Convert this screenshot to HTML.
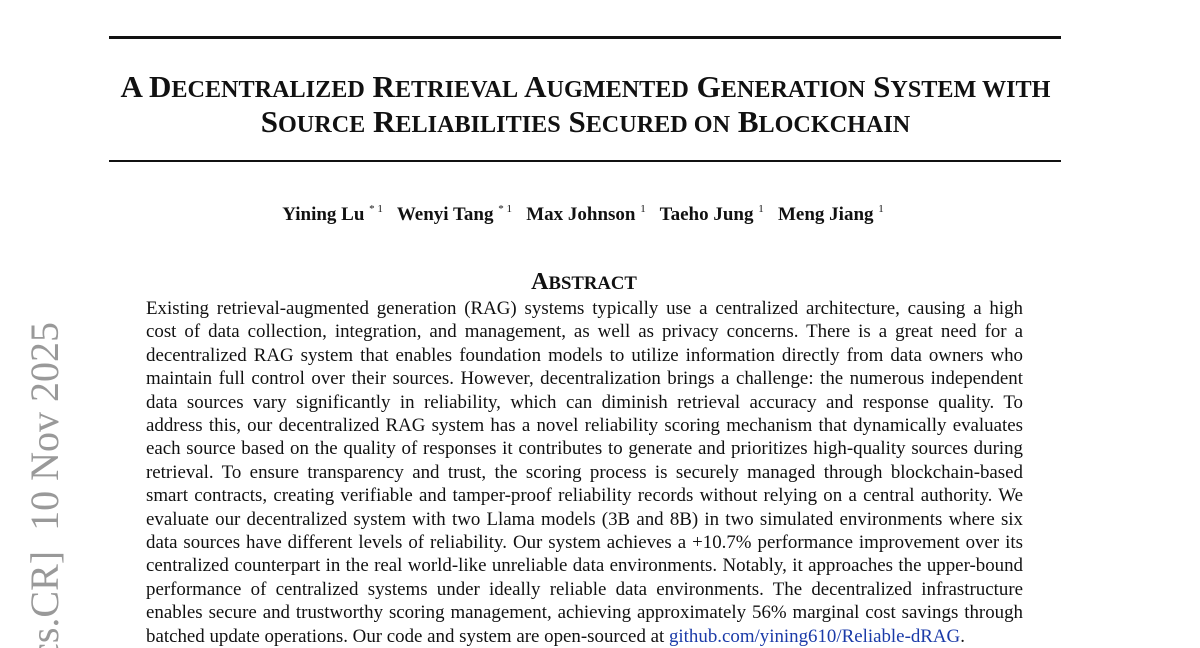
<!DOCTYPE html>
<html><head><meta charset="utf-8"><style>
html,body{margin:0;width:1200px;height:648px;overflow:hidden;background:#fff}
#p{position:relative;width:1200px;height:648px;overflow:hidden;font-family:"Liberation Serif",serif;color:#111}
.rule{position:absolute;left:109px;width:952px;background:#111}
.t{position:absolute;left:0;width:1171px;text-align:center;font-weight:bold;font-size:31px;white-space:nowrap;line-height:34px}
.t s,.abs s{text-decoration:none;font-size:78%}
.auth{position:absolute;top:203px;left:0;width:1166px;text-align:center;font-weight:bold;font-size:19px;white-space:nowrap}
.auth sup{font-weight:normal;font-size:11px;vertical-align:8px}
.abs{position:absolute;top:269px;left:0;width:1168px;text-align:center;font-weight:bold;font-size:24px}
.body{position:absolute;left:146px;top:297px;width:877px;font-size:18.9px;line-height:23.4px}
.body div{text-align:justify;text-align-last:justify;white-space:nowrap}
.body div.last{text-align-last:left}
a{color:#1a3aa8;text-decoration:none}
.side{position:absolute;left:22px;top:322px;width:326px;height:46px;overflow:hidden;display:flex;justify-content:flex-end;transform-origin:0 0;transform:translate(0,326px) rotate(-90deg);color:#999;font-size:40px;line-height:46px;white-space:nowrap}
.side span{flex:none}
</style></head><body><div id="p">
<div class="rule" style="top:36px;height:3px"></div>
<div class="rule" style="top:160px;height:1.5px"></div>
<div class="t" style="top:70px">A D<s>ECENTRALIZED</s> R<s>ETRIEVAL</s> A<s>UGMENTED</s> G<s>ENERATION</s> S<s>YSTEM WITH</s></div>
<div class="t" style="top:105px">S<s>OURCE</s> R<s>ELIABILITIES</s> S<s>ECURED ON</s> B<s>LOCKCHAIN</s></div>
<div class="auth">Yining Lu <sup>* 1</sup>&nbsp;&nbsp; Wenyi Tang <sup>* 1</sup>&nbsp;&nbsp; Max Johnson <sup>1</sup>&nbsp;&nbsp; Taeho Jung <sup>1</sup>&nbsp;&nbsp; Meng Jiang <sup>1</sup></div>
<div class="abs">A<s>BSTRACT</s></div>
<div class="side"><span>arXiv:2511.xxxxx [cs.CR]&nbsp; 10 Nov 2025</span></div>
<div class="body">
<div>Existing retrieval-augmented generation (RAG) systems typically use a centralized architecture, causing a high</div>
<div>cost of data collection, integration, and management, as well as privacy concerns. There is a great need for a</div>
<div>decentralized RAG system that enables foundation models to utilize information directly from data owners who</div>
<div>maintain full control over their sources. However, decentralization brings a challenge: the numerous independent</div>
<div>data sources vary significantly in reliability, which can diminish retrieval accuracy and response quality. To</div>
<div>address this, our decentralized RAG system has a novel reliability scoring mechanism that dynamically evaluates</div>
<div>each source based on the quality of responses it contributes to generate and prioritizes high-quality sources during</div>
<div>retrieval. To ensure transparency and trust, the scoring process is securely managed through blockchain-based</div>
<div>smart contracts, creating verifiable and tamper-proof reliability records without relying on a central authority. We</div>
<div>evaluate our decentralized system with two Llama models (3B and 8B) in two simulated environments where six</div>
<div>data sources have different levels of reliability. Our system achieves a +10.7% performance improvement over its</div>
<div>centralized counterpart in the real world-like unreliable data environments. Notably, it approaches the upper-bound</div>
<div>performance of centralized systems under ideally reliable data environments. The decentralized infrastructure</div>
<div>enables secure and trustworthy scoring management, achieving approximately 56% marginal cost savings through</div>
<div class="last">batched update operations. Our code and system are open-sourced at <a>github.com/yining610/Reliable-dRAG</a>.</div>
</div>
</div></body></html>
